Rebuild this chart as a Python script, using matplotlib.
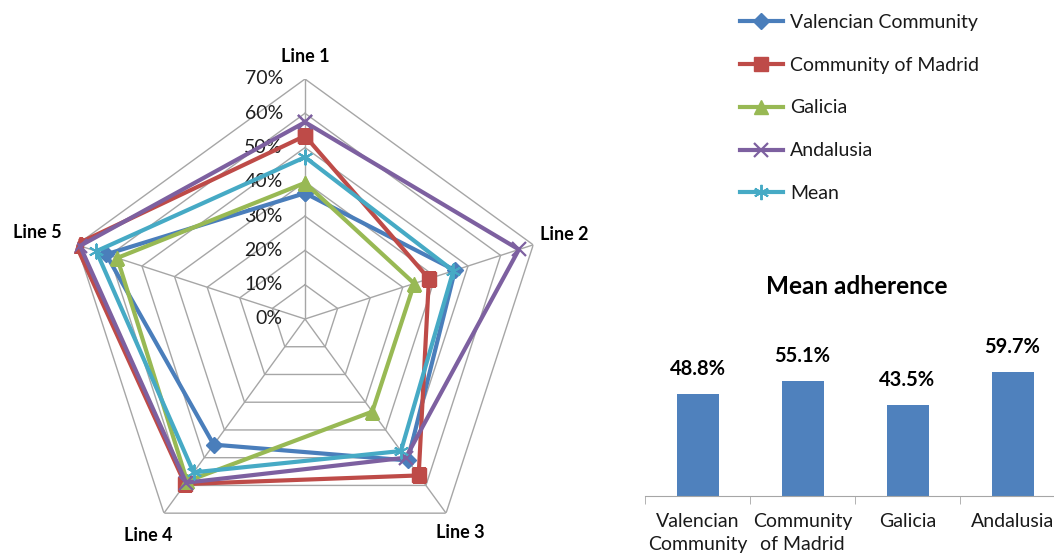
import matplotlib.pyplot as plt
import numpy as np

plt.rcParams['font.family'] = ['Lato', 'DejaVu Sans']

# radar data (percent)
axis_names = ['Line 1', 'Line 2', 'Line 3', 'Line 4', 'Line 5']
valencian = [36.7, 46.0, 51.0, 45.3, 61.0]
madrid = [53.4, 38.0, 56.4, 59.5, 70.3]
galicia = [39.7, 33.5, 33.4, 58.5, 57.6]
andalusia = [57.4, 65.6, 50.0, 59.0, 69.0]
mean = [47.2, 45.5, 47.6, 55.3, 64.0]
radar_ticks = [0, 10, 20, 30, 40, 50, 60, 70]

# bar data
regions = ['Valencian\nCommunity', 'Community\nof Madrid', 'Galicia', 'Andalusia']
adherence = [48.8, 55.1, 43.5, 59.7]

W, H = 1054, 556
fig = plt.figure(figsize=(W / 100, H / 100), dpi=100)

# ---- radar ----
cx, cy, R = 305, 319, 240
ax = fig.add_axes([(cx - R) / W, (H - cy - R) / H, 2 * R / W, 2 * R / H], projection='polar')
ax.set_theta_offset(np.pi / 2)
ax.set_theta_direction(-1)
ax.set_ylim(0, 70)
ax.grid(False)
ax.set_xticks([])
ax.set_yticks([])
ax.spines['polar'].set_visible(False)
ax.patch.set_alpha(0)

angles = np.linspace(0, 2 * np.pi, len(axis_names), endpoint=False)
closed = np.append(angles, angles[0])

grid_col = '#a6a6a6'
for lvl in radar_ticks[1:]:
    ax.plot(closed, [lvl] * len(closed), color=grid_col, lw=1, zorder=1)
for a in angles:
    ax.plot([a, a], [0, 70], color=grid_col, lw=1, zorder=1)

for lvl in radar_ticks:
    ax.annotate(f'{lvl}%', (0, lvl), xytext=(-16, 0), textcoords='offset points',
                ha='right', va='center', fontsize=14, color='#1f1f1f')

label_r = [76.5, 79.5, 77, 78, 82]
for a, name, r in zip(angles, axis_names, label_r):
    ax.text(a, r, name, ha='center', va='center', fontsize=13, fontweight='bold')

series = [
    ('Valencian Community', valencian, '#4a7ebb', 'D', 8.5),
    ('Community of Madrid', madrid, '#be4b48', 's', 10.5),
    ('Galicia', galicia, '#98b954', '^', 10.5),
    ('Andalusia', andalusia, '#7d60a0', 'x', 10),
    ('Mean', mean, '#46aac5', '*', 11),
]
handles = []
for name, vals, col, mk, ms in series:
    v = np.append(vals, vals[0])
    if mk == 'x':
        h, = ax.plot(closed, v, color=col, lw=3, marker=mk, ms=ms, mew=1.6, label=name, zorder=3)
    elif mk == '*':
        h, = ax.plot(closed, v, color=col, lw=3, marker=(6, 2, 0), ms=ms, mew=1.4, label=name, zorder=3)
    else:
        h, = ax.plot(closed, v, color=col, lw=3, marker=mk, ms=ms, mfc=col, mec=col, label=name, zorder=3)
    handles.append(h)

fig.legend(handles=handles, loc='upper left', bbox_to_anchor=(730 / W, 1 - 4 / H),
           frameon=False, fontsize=14, labelspacing=1.33, handlelength=2.2,
           handletextpad=0.4, borderpad=0, labelcolor='#1a1a1a')

# ---- bar chart ----
bx0, bx1, by0, by1 = 645, 1065, 496, 340
bax = fig.add_axes([bx0 / W, (H - by0) / H, (bx1 - bx0) / W, (by0 - by1) / H])
x = np.arange(len(regions))
bars = bax.bar(x, adherence, width=0.4, color='#4f81bd')
bax.set_xlim(-0.5, len(regions) - 0.5)
bax.set_ylim(0, (by0 - by1) / 2.085)
for s in ['top', 'right', 'left']:
    bax.spines[s].set_visible(False)
bax.spines['bottom'].set_color('#a6a6a6')
bax.set_yticks([])
bax.set_xticks(x)
bax.set_xticklabels(regions, fontsize=14, color='#1a1a1a', linespacing=1.45)
bax.tick_params(axis='x', which='major', length=0, pad=12)
bax.set_xticks(np.arange(-0.5, len(regions)), minor=True)
bax.tick_params(axis='x', which='minor', length=6, color='#a6a6a6')
bax.patch.set_alpha(0)
for xi, val in zip(x, adherence):
    bax.annotate(f'{val}%', (xi, val), xytext=(0, 18), textcoords='offset points',
                 ha='center', va='center', fontsize=14.5, fontweight='bold')

fig.text(857 / W, 1 - 286 / H, 'Mean adherence', ha='center', va='center',
         fontsize=17.5, fontweight='bold')

fig.savefig('out.png', dpi=100)
